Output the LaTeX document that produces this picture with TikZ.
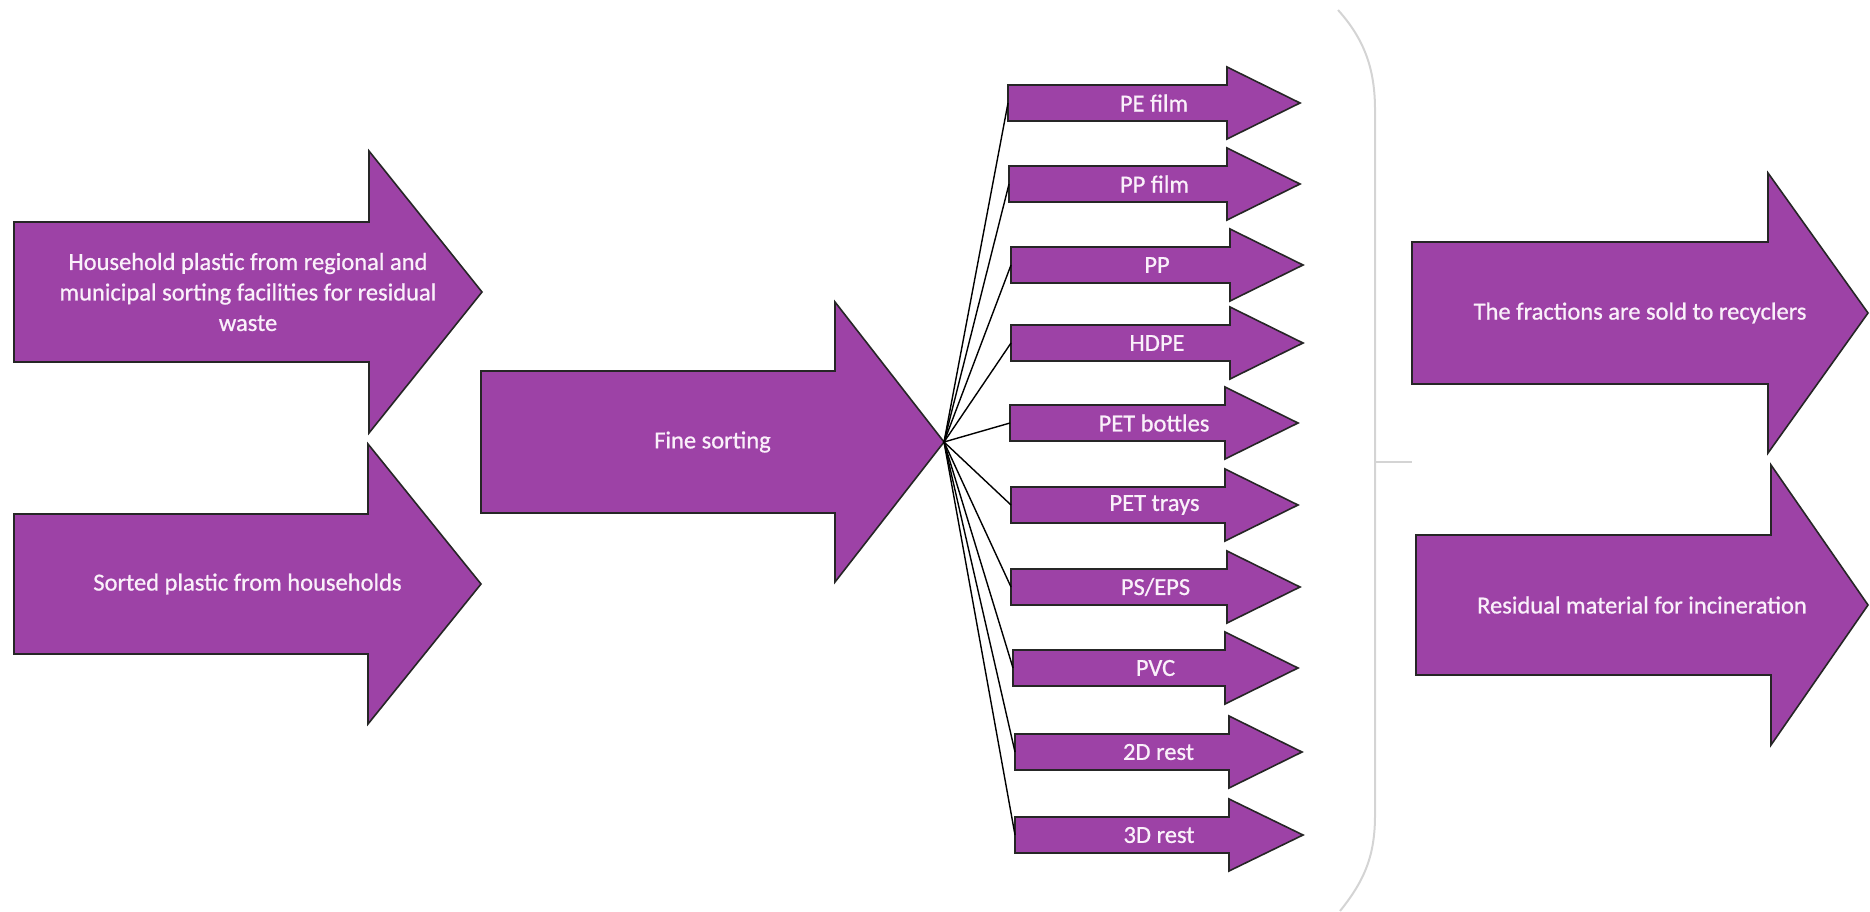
\documentclass[tikz,border=0pt]{standalone}
\usepackage{fontspec}
\setmainfont{Carlito}[RawFeature={embolden=0.8}]
\definecolor{arrowfill}{RGB}{157,66,166}
\definecolor{arrowtext}{RGB}{250,240,250}
\definecolor{bracegray}{RGB}{212,212,212}
\tikzset{
  arrowbody/.style={fill=arrowfill, draw=black!85, line width=1.6pt, line join=miter},
  arrowlabel/.style={text=arrowtext, align=center, inner sep=0pt, font=\fontsize{24.5}{30.5}\selectfont},
  fanline/.style={draw=black, line width=1.4pt},
  bracestyle/.style={draw=bracegray, line width=2pt}
}
% #1 name, #2 left x, #3 head x, #4 tip x, #5 centre y, #6 body half height, #7 head half height, #8 text
\newcommand\flowarrow[8]{%
  \path[arrowbody] (#2,#5-#6) -- (#3,#5-#6) -- (#3,#5-#7) -- (#4,#5) -- (#3,#5+#7) -- (#3,#5+#6) -- (#2,#5+#6) -- cycle;
  \node[arrowlabel] (#1) at ({(#2+#4)/2},#5) {#8};
  \coordinate (#1-w) at (#2,#5);
  \coordinate (#1-tip) at (#4,#5);
}
\begin{document}
\begin{tikzpicture}[x=1pt,y=-1pt]
\useasboundingbox (0,0) rectangle (1870,912);
% large input arrows
\flowarrow{house}{14}{369}{482}{292}{70}{141}{Household plastic from regional and\\municipal sorting facilities for residual\\waste}
\flowarrow{sorted}{14}{368}{481}{584}{70}{140}{Sorted plastic from households}
\flowarrow{fine}{481}{835}{944}{442}{71}{140}{Fine sorting}
% fractions
\flowarrow{pefilm}{1008}{1227}{1300}{103}{18}{36}{PE film}
\flowarrow{ppfilm}{1009}{1227}{1300}{184}{18}{36}{PP film}
\flowarrow{pp}{1011}{1230}{1303}{265}{18}{36}{PP}
\flowarrow{hdpe}{1011}{1230}{1303}{343}{18}{36}{HDPE}
\flowarrow{petb}{1010}{1225}{1298}{423}{18}{36}{PET bottles}
\flowarrow{pett}{1011}{1225}{1298}{505}{18}{36}{PET trays}
\flowarrow{ps}{1011}{1227}{1300}{587}{18}{36}{PS/EPS}
\flowarrow{pvc}{1013}{1225}{1298}{668}{18}{36}{PVC}
\flowarrow{rest2d}{1015}{1229}{1302}{752}{18}{36}{2D rest}
\flowarrow{rest3d}{1015}{1229}{1303}{835}{18}{36}{3D rest}
% fan lines
\foreach \t in {pefilm,ppfilm,pp,hdpe,petb,pett,ps,pvc,rest2d,rest3d}
  \draw[fanline] (fine-tip) -- (\t-w);
% brace
\coordinate (bracetop) at (1338,10);
\coordinate (bracebot) at (1340,911);
\coordinate (bracemid) at (1375,462);
\coordinate (braceend) at (1412,462);
\draw[bracestyle] (bracetop) .. controls (1365,40) and (1375,70) .. (1375,110)
  -- (1375,815) .. controls (1375,855) and (1365,880) .. (bracebot);
\draw[bracestyle] (bracemid) -- (braceend);
% output arrows
\flowarrow{sold}{1412}{1768}{1868}{313}{71}{140}{The fractions are sold to recyclers}
\flowarrow{resid}{1416}{1771}{1868}{605}{70}{140}{Residual material for incineration}
\end{tikzpicture}
\end{document}
